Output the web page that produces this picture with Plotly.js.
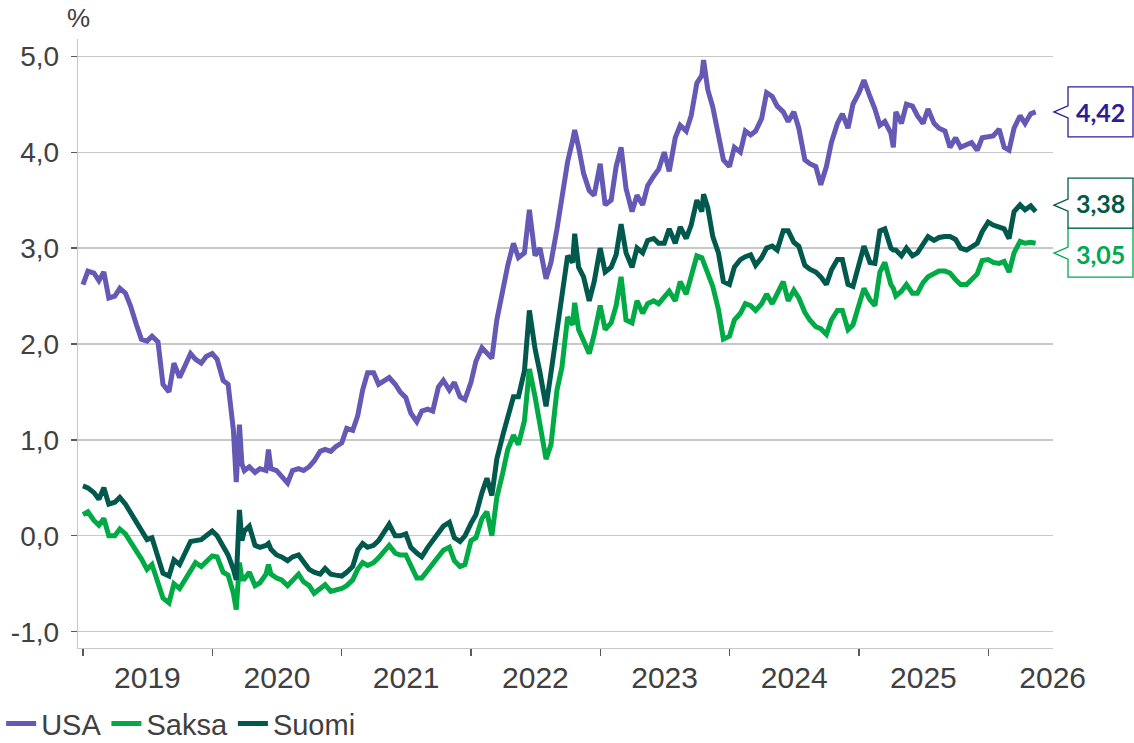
<!DOCTYPE html>
<html>
<head>
<meta charset="utf-8">
<script src="https://cdn.plot.ly/plotly-3.0.1.min.js"></script>
<style>
  html, body { margin: 0; padding: 0; background: #ffffff; }
  #chart { width: 1134px; height: 743px; }
</style>
</head>
<body>
<div id="chart"></div>
<script>
// Observation dates (semi-monthly, plus a few extra dates around sharp moves)
const dates = [
  "2019-01-01","2019-01-15","2019-02-01","2019-02-15","2019-03-01","2019-03-15","2019-04-01","2019-04-15","2019-05-01","2019-05-15","2019-06-01","2019-06-15",
  "2019-07-01","2019-07-15","2019-08-01","2019-08-15","2019-09-01","2019-09-15","2019-10-01","2019-10-15","2019-11-01","2019-11-15","2019-12-01","2019-12-15",
  "2020-01-01","2020-01-15","2020-02-01","2020-02-15","2020-03-01","2020-03-09","2020-03-18","2020-03-25","2020-04-01","2020-04-15","2020-05-01","2020-05-15",
  "2020-06-01","2020-06-08","2020-06-15","2020-07-01","2020-07-15","2020-08-01","2020-08-15","2020-09-01","2020-09-15","2020-10-01","2020-10-15","2020-11-01",
  "2020-11-15","2020-12-01","2020-12-15",
  "2021-01-01","2021-01-15","2021-02-01","2021-02-15","2021-03-01","2021-03-15","2021-04-01","2021-04-15","2021-05-01","2021-05-15","2021-06-01","2021-06-15",
  "2021-07-01","2021-07-15","2021-08-01","2021-08-15","2021-09-01","2021-09-15","2021-10-01","2021-10-15","2021-11-01","2021-11-15","2021-12-01","2021-12-15",
  "2022-01-01","2022-01-15","2022-02-01","2022-02-15","2022-03-01","2022-03-15","2022-04-01","2022-04-15","2022-05-01","2022-05-15","2022-06-01","2022-06-15",
  "2022-07-01","2022-07-15","2022-08-01","2022-08-15","2022-09-01","2022-09-15","2022-10-01","2022-10-15","2022-10-21","2022-11-01","2022-11-15","2022-12-01","2022-12-15",
  "2023-01-01","2023-01-15","2023-02-01","2023-02-15","2023-03-01","2023-03-15","2023-04-01","2023-04-15","2023-05-01","2023-05-15","2023-06-01","2023-06-15",
  "2023-07-01","2023-07-15","2023-08-01","2023-08-15","2023-09-01","2023-09-15","2023-10-01","2023-10-15","2023-10-20","2023-11-01","2023-11-15","2023-12-01","2023-12-15",
  "2024-01-01","2024-01-15","2024-02-01","2024-02-15","2024-03-01","2024-03-15","2024-04-01","2024-04-15","2024-05-01","2024-05-15","2024-06-01","2024-06-15",
  "2024-07-01","2024-07-15","2024-08-01","2024-08-15","2024-09-01","2024-09-15","2024-10-01","2024-10-15","2024-11-01","2024-11-15","2024-12-01","2024-12-15",
  "2025-01-01","2025-01-15","2025-02-01","2025-02-15","2025-03-01","2025-03-15","2025-04-01","2025-04-08","2025-04-15","2025-05-01","2025-05-15","2025-06-01","2025-06-15",
  "2025-07-01","2025-07-15","2025-08-01","2025-08-15","2025-09-01","2025-09-15","2025-10-01","2025-10-15","2025-11-01","2025-11-15","2025-12-01","2025-12-15",
  "2026-01-01","2026-01-15","2026-02-01","2026-02-15","2026-03-01","2026-03-15","2026-04-01","2026-04-15","2026-05-01","2026-05-15"
];

// 10-year government bond yields, %
const usa = [
  2.62,2.76,2.74,2.66,2.75,2.48,2.50,2.58,2.53,2.40,2.20,2.05,2.03,2.08,2.02,1.58,1.50,1.80,1.65,1.76,1.90,1.84,1.80,1.87,
  1.90,1.84,1.62,1.58,1.10,0.56,1.16,0.75,0.68,0.72,0.66,0.70,0.68,0.90,0.70,0.68,0.62,0.55,0.68,0.70,0.68,0.72,0.78,0.88,0.90,0.88,0.93,
  0.97,1.12,1.10,1.25,1.52,1.70,1.70,1.58,1.62,1.65,1.58,1.50,1.44,1.28,1.19,1.30,1.32,1.30,1.55,1.62,1.52,1.60,1.45,1.42,
  1.60,1.82,1.96,1.90,1.85,2.25,2.60,2.82,3.05,2.90,2.95,3.40,2.92,3.00,2.68,2.85,3.20,3.55,3.90,4.12,4.23,4.05,3.78,3.60,3.55,
  3.88,3.45,3.50,3.85,4.05,3.62,3.38,3.55,3.45,3.65,3.75,3.82,4.00,3.80,4.15,4.28,4.22,4.38,4.72,4.80,4.96,4.65,4.47,4.20,3.92,
  3.85,4.05,4.00,4.22,4.18,4.22,4.35,4.62,4.58,4.48,4.42,4.32,4.42,4.25,3.92,3.88,3.85,3.66,3.85,4.10,4.30,4.40,4.25,4.50,
  4.62,4.75,4.58,4.45,4.28,4.32,4.20,4.05,4.42,4.30,4.50,4.48,4.38,4.30,4.45,4.30,4.25,4.22,4.05,4.15,4.05,4.08,4.10,4.02,4.15,
  4.16,4.17,4.24,4.05,4.02,4.25,4.38,4.30,4.40,4.42
];
const saksa = [
  0.22,0.25,0.16,0.11,0.18,0.00,0.00,0.07,0.02,-0.07,-0.16,-0.24,-0.35,-0.30,-0.50,-0.65,-0.70,-0.50,-0.55,-0.47,-0.38,-0.28,-0.32,-0.27,
  -0.21,-0.22,-0.38,-0.41,-0.60,-0.77,-0.28,-0.45,-0.45,-0.38,-0.52,-0.49,-0.40,-0.30,-0.40,-0.44,-0.46,-0.52,-0.47,-0.40,-0.48,-0.52,-0.60,-0.55,-0.51,-0.58,-0.57,
  -0.55,-0.52,-0.46,-0.35,-0.28,-0.31,-0.28,-0.23,-0.15,-0.10,-0.18,-0.20,-0.20,-0.31,-0.44,-0.44,-0.36,-0.30,-0.22,-0.15,-0.12,-0.26,-0.32,-0.30,
  -0.05,-0.02,0.18,0.25,0.00,0.40,0.66,0.90,1.05,0.95,1.20,1.74,1.45,1.12,0.80,0.95,1.52,1.76,2.28,2.20,2.43,2.15,2.02,1.90,2.10,
  2.40,2.15,2.22,2.40,2.70,2.25,2.22,2.45,2.32,2.42,2.45,2.42,2.50,2.55,2.45,2.65,2.52,2.70,2.92,2.90,2.85,2.74,2.60,2.36,2.05,
  2.08,2.25,2.32,2.42,2.40,2.35,2.42,2.52,2.42,2.52,2.65,2.45,2.56,2.48,2.33,2.25,2.18,2.16,2.10,2.25,2.35,2.35,2.15,2.20,
  2.42,2.58,2.46,2.40,2.75,2.85,2.62,2.58,2.50,2.55,2.62,2.53,2.53,2.64,2.70,2.74,2.76,2.76,2.74,2.67,2.62,2.62,2.67,2.73,2.87,
  2.88,2.85,2.84,2.86,2.75,2.95,3.07,3.05,3.06,3.05
];
const suomi = [
  0.52,0.50,0.45,0.38,0.50,0.33,0.35,0.40,0.33,0.25,0.15,0.05,-0.04,-0.02,-0.22,-0.39,-0.42,-0.25,-0.30,-0.18,-0.06,-0.05,-0.04,0.00,
  0.05,0.00,-0.12,-0.20,-0.35,-0.46,0.27,-0.05,0.05,0.10,-0.10,-0.12,-0.10,-0.08,-0.14,-0.20,-0.22,-0.26,-0.22,-0.20,-0.27,-0.35,-0.38,-0.40,-0.34,-0.40,-0.41,
  -0.42,-0.38,-0.32,-0.15,-0.08,-0.12,-0.10,-0.05,0.05,0.12,0.00,0.00,0.02,-0.12,-0.18,-0.22,-0.12,-0.05,0.04,0.10,0.14,-0.02,-0.06,0.00,
  0.13,0.22,0.45,0.60,0.42,0.80,1.05,1.25,1.45,1.45,1.72,2.35,1.95,1.70,1.35,1.70,2.15,2.46,2.92,2.85,3.15,2.80,2.70,2.45,2.65,
  3.00,2.75,2.80,2.93,3.25,2.95,2.80,3.00,2.95,3.08,3.10,3.05,3.05,3.20,3.05,3.22,3.10,3.24,3.50,3.38,3.56,3.42,3.12,2.95,2.65,
  2.62,2.80,2.88,2.91,2.93,2.82,2.90,3.00,3.02,2.98,3.18,3.18,3.06,3.02,2.82,2.78,2.75,2.70,2.62,2.77,2.88,2.88,2.62,2.60,
  2.85,3.02,2.85,2.84,3.18,3.20,3.00,2.98,2.98,2.92,3.00,2.92,2.95,3.05,3.12,3.08,3.11,3.12,3.12,3.09,3.00,2.98,3.02,3.05,3.17,
  3.27,3.24,3.22,3.20,3.10,3.38,3.45,3.40,3.44,3.38
];

// series order: USA, Saksa, Suomi
const seriesNames = ["USA", "Saksa", "Suomi"];
const seriesColors = ["#6459B4", "#00AA45", "#00594C"];
const labelColors = ["#2D1D9B", "#00A84F", "#00594C"];
const lastLabels = ["4,42", "3,05", "3,38"];

const yTickVals = [-1, 0, 1, 2, 3, 4, 5];
const yTickText = ["-1,0", "0,0", "1,0", "2,0", "3,0", "4,0", "5,0"];
const yearStarts = ["2019-01-01","2020-01-01","2021-01-01","2022-01-01","2023-01-01","2024-01-01","2025-01-01","2026-01-01"];
const yearMids = ["2019-07-02","2020-07-02","2021-07-02","2022-07-02","2023-07-02","2024-07-02","2025-07-02","2026-07-02"];
const yearLabels = ["2019","2020","2021","2022","2023","2024","2025","2026"];

[usa, saksa, suomi].forEach(function (s, i) {
  if (s.length !== dates.length) throw new Error(seriesNames[i] + " length " + s.length + " vs " + dates.length);
});

const values = [usa, saksa, suomi];
const traces = values.map(function (v, i) {
  return {
    type: "scatter", mode: "lines", name: seriesNames[i],
    x: dates, y: v, xaxis: "x", yaxis: "y",
    line: { color: seriesColors[i], width: 5 },
    hoverinfo: "skip"
  };
});
traces.push({ type: "scatter", mode: "lines", x: [], y: [], xaxis: "x2", yaxis: "y", showlegend: false, hoverinfo: "skip" });

const xRange = ["2018-12-18", "2026-07-03"];
const textFont = "Liberation Sans, Arial, sans-serif";
const textColor = "#404040";

// callout boxes (pixel-sized, anchored at each series' last value), order USA, Saksa, Suomi
const tipShift = [0, -9.8, 6.5];
const boxTop = [25, 15.2, 33.5];
const boxBottom = [-25, -33.8, -16.5];
const textShift = [0, -10.5, 8.5];

const lastVals = values.map(function (v) { return v[v.length - 1]; });
const shapes = [];
const annotations = [];
lastVals.forEach(function (val, i) {
  const t = tipShift[i];
  const path = "M1," + t + " L15," + (t + 6) + " L15," + boxTop[i] + " L80," + boxTop[i] +
               " L80," + boxBottom[i] + " L15," + boxBottom[i] + " L15," + (t - 6) + " Z";
  shapes.push({
    type: "path", xref: "paper", yref: "y", xsizemode: "pixel", ysizemode: "pixel",
    xanchor: 1, yanchor: val, path: path,
    fillcolor: "#ffffff", line: { color: labelColors[i], width: 1.3 }, layer: "above"
  });
  annotations.push({
    xref: "paper", yref: "y", x: 1.0492, y: val, yshift: textShift[i],
    xanchor: "center", yanchor: "middle", showarrow: false,
    text: "<b>" + lastLabels[i] + "</b>",
    font: { family: "Lato, Open Sans, sans-serif", size: 25, color: labelColors[i] }
  });
});
annotations.push({
  xref: "paper", yref: "paper", x: 0.001, y: 1.034, xanchor: "center", yanchor: "middle",
  showarrow: false, text: "%", font: { family: textFont, size: 26, color: textColor }
});

const layout = {
  width: 1134, height: 743,
  margin: { l: 78, r: 81, t: 39, b: 95, pad: 0, autoexpand: false },
  paper_bgcolor: "#ffffff", plot_bgcolor: "#ffffff",
  font: { family: textFont, size: 28, color: textColor },
  showlegend: true,
  legend: {
    orientation: "h", xref: "container", yref: "container",
    x: 0.001, xanchor: "left", y: 0.026, yanchor: "middle",
    font: { family: textFont, size: 29, color: textColor },
    itemwidth: 30, tracegroupgap: 0, bgcolor: "rgba(0,0,0,0)"
  },
  xaxis: {
    type: "date", range: xRange, tickmode: "array", tickvals: yearStarts, showticklabels: false,
    ticks: "outside", ticklen: 7, tickwidth: 1.3, tickcolor: "#595959",
    showgrid: false, zeroline: false, showline: true, linecolor: "#C8C8C8", linewidth: 1.3
  },
  xaxis2: {
    type: "date", range: xRange, overlaying: "x", anchor: "y", side: "bottom",
    tickmode: "array", tickvals: yearMids, ticktext: yearLabels, ticks: "", ticklabelstandoff: 9,
    showgrid: false, zeroline: false, showline: false,
    tickfont: { family: textFont, size: 30, color: textColor }
  },
  yaxis: {
    range: [-1.17, 5.18], tickmode: "array", tickvals: yTickVals, ticktext: yTickText,
    ticks: "outside", ticklen: 6, tickwidth: 1.3, tickcolor: "#595959", ticklabelstandoff: 6,
    showgrid: true, gridcolor: "#C8C8C8", gridwidth: 1.3, zeroline: false,
    showline: true, linecolor: "#C8C8C8", linewidth: 1.3,
    tickfont: { family: textFont, size: 28, color: textColor }
  },
  shapes: shapes,
  annotations: annotations
};

Plotly.newPlot("chart", traces, layout, { displayModeBar: false, staticPlot: true });
</script>
</body>
</html>
